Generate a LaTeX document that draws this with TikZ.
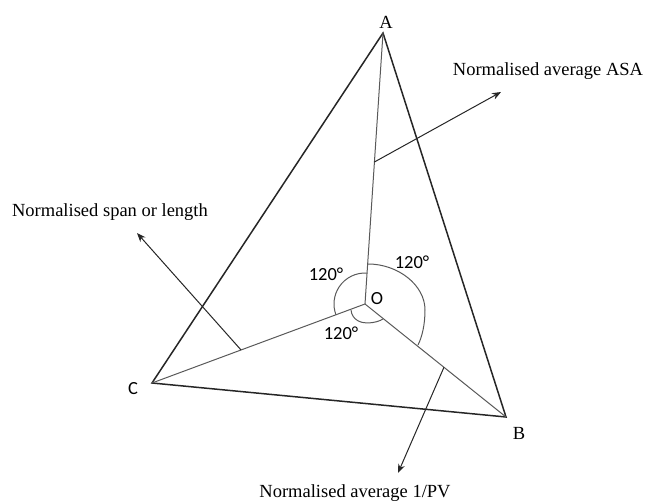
\documentclass[tikz,border=0pt]{standalone}
\usepackage{fontspec}
\setmainfont{Liberation Serif}
\newfontfamily\anglefont{Carlito}
\usetikzlibrary{arrows.meta,calc}

\begin{document}
\begin{tikzpicture}[x=1pt,y=1pt,>={Stealth[length=9pt,width=7pt]},
  side/.style={line width=1.5pt,draw=black!85},
  ray/.style={line width=1pt,draw=black!65},
  pointer/.style={->,line width=1pt,draw=black!85},
  lab/.style={font=\fontsize{18.5}{22}\selectfont,inner sep=0pt},
  deg/.style={font=\anglefont\fontsize{18.5}{22}\selectfont,inner sep=0pt}]
\useasboundingbox (0,0) rectangle (646,-502);
\coordinate (A) at (383,-33);
\coordinate (B) at (506,-417);
\coordinate (C) at (152,-383);
\coordinate (O) at (365,-304);
% triangle and the three rays from O
\draw[side](A)--(B)--(C)--cycle;
\draw[ray](O)--(A) (O)--(B) (O)--(C);
% angle marks
\draw[ray](O)++(86.2:31)arc(86.2:200.4:31);
\draw[ray](368,-264) .. controls (398,-264) and (425,-285) .. (425,-310)
  .. controls (425,-325) and (422,-337) .. (418,-345);
\draw[ray](351,-310) .. controls (352,-320) and (361,-323) .. (367,-323)
  .. controls (374,-323) and (380,-321) .. (383,-319);
% pointers
\coordinate (pa) at ($(O)!0.524!(A)$);
\coordinate (pc) at ($(O)!0.582!(C)$);
\coordinate (pb) at ($(O)!0.56!(B)$);
\coordinate (ta) at (501,-92);
\coordinate (tc) at (137,-233);
\coordinate (tb) at (398,-473);
\draw[pointer](pa)--(ta);
\draw[pointer](pc)--(tc);
\draw[pointer](pb)--(tb);
% labels
\node[lab](la) at (386,-22){A};
\node[lab](lb) at (519,-433){B};
\node[deg](lc) at (133,-389){C};
\node[deg](lo) at (377,-299){O};
\node[lab](asa) at (548,-71){Normalised average ASA};
\node[lab](span) at (110,-212){Normalised span or length};
\node[lab](pv) at (355,-493){Normalised average 1/PV};
\node[deg](dr) at (412,-262){120°};
\node[deg](dl) at (326,-274){120°};
\node[deg](db) at (341,-333){120°};
\end{tikzpicture}
\end{document}
